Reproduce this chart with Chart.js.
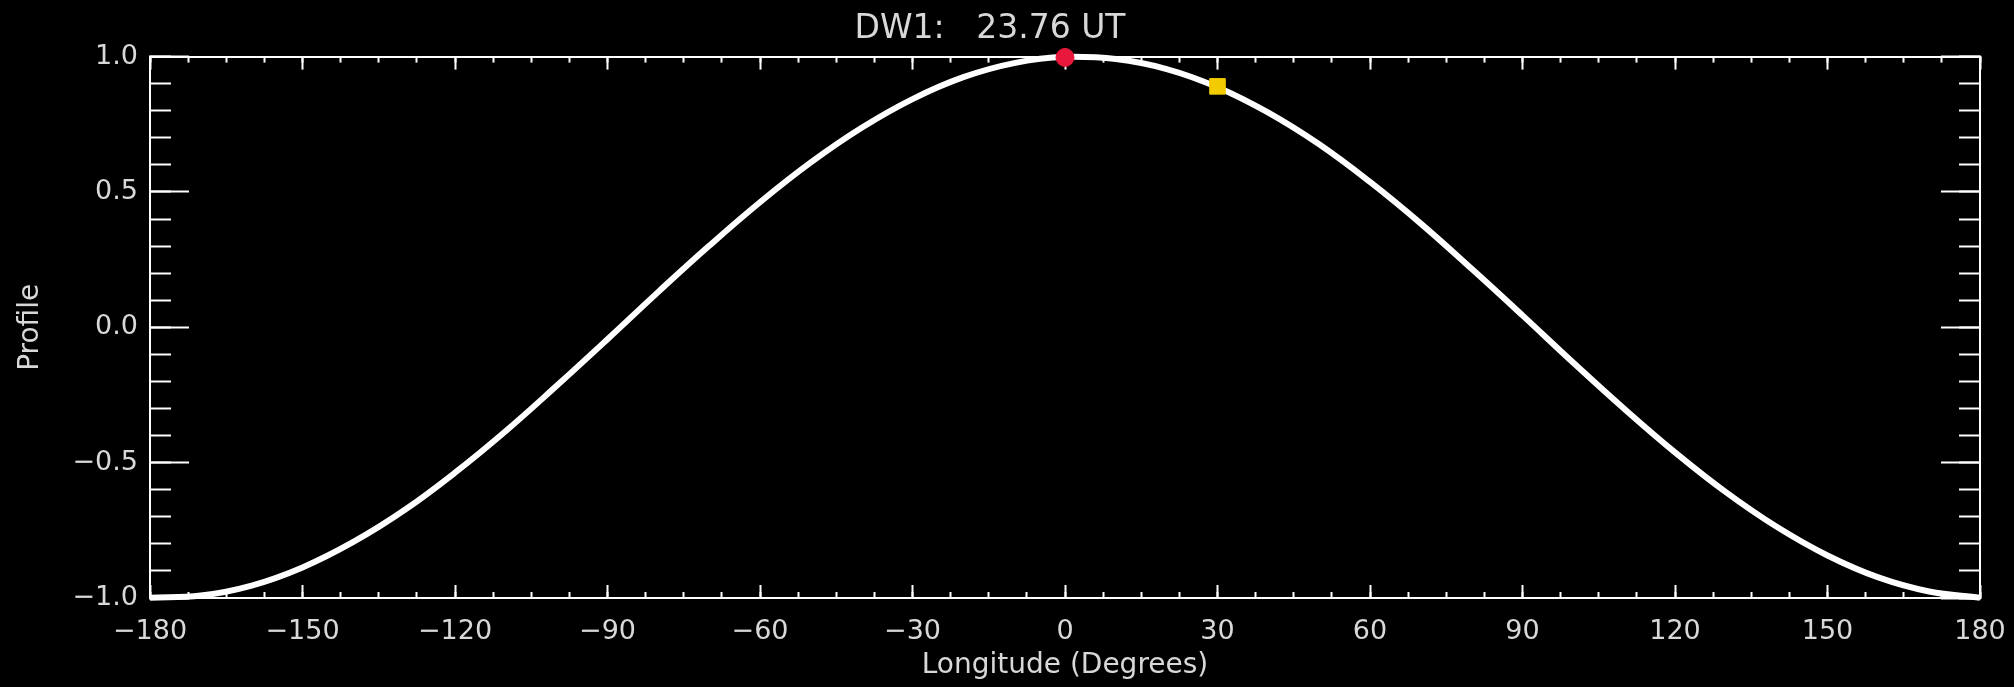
<!DOCTYPE html>
<html>
<head>
<meta charset="utf-8">
<script src="https://cdn.jsdelivr.net/npm/chart.js@4/dist/chart.umd.min.js"></script>
<style>
  html, body { margin: 0; padding: 0; background: #000; }
  #wrap { width: 2014px; height: 687px; position: relative; }
</style>
</head>
<body>
<div id="wrap"><canvas id="profileChart"></canvas></div>
<script>
/* ============ DATA ============ */
const longitude = [-180, -170, -160, -150, -140, -130, -120, -110, -100, -90,
  -80, -70, -60, -50, -40, -30, -20, -10, 0, 10, 20, 30, 40, 50, 60, 70, 80,
  90, 100, 110, 120, 130, 140, 150, 160, 170, 180];
const profile = [-0.999, -0.991, -0.954, -0.887, -0.793, -0.676, -0.537, -0.383,
  -0.216, -0.044, 0.131, 0.301, 0.462, 0.609, 0.737, 0.843, 0.924, 0.976, 0.999,
  0.991, 0.954, 0.887, 0.793, 0.676, 0.537, 0.383, 0.216, 0.044, -0.131, -0.301,
  -0.462, -0.609, -0.737, -0.843, -0.924, -0.976, -0.999];

const redMarker = { lon: 0, value: 0.997 };
const yellowMarker = { lon: 30, value: 0.89 };

const xRange = [-180, 180];
const yRange = [-1, 1];
const xMajorStep = 30, xMinorStep = 7.5;
const yMajorStep = 0.5, yMinorStep = 0.1;

const titleText = 'DW1:   23.76 UT';
const xTitle = 'Longitude (Degrees)';
const yTitle = 'Profile';

/* ============ STYLE ============ */
const FONT = "'DejaVu Sans', sans-serif";
const INK = '#d8d8d8';

// IDL-style inward ticks: one scale per tick length
function tickScale(axis, position, step, len, extra) {
  const isX = axis === 'x';
  return Object.assign({
    type: 'linear',
    position: position,
    axis: axis,
    min: isX ? xRange[0] : yRange[0],
    max: isX ? xRange[1] : yRange[1],
    weight: 0,
    border: { display: false },
    grid: { drawOnChartArea: false, drawTicks: true, tickLength: -len, tickColor: '#fff', tickWidth: 2 },
    ticks: { display: false, stepSize: step },
    afterFit: s => {
      if (isX) s.height = 0; else s.width = 0;
      s.paddingLeft = s.paddingRight = s.paddingTop = s.paddingBottom = 0;
    }
  }, extra || {});
}

const scales = {
  x: tickScale('x', 'bottom', xMajorStep, 13, {
    weight: 1,
    border: { display: true, color: '#fff', width: 2 },
    ticks: {
      display: true, stepSize: xMajorStep, padding: 31, color: INK,
      font: { family: FONT, size: 27 },
      callback: v => (v < 0 ? '\u2212' + Math.abs(v) : String(v))
    },
    title: { display: true, text: xTitle, color: INK, font: { family: FONT, size: 28 }, padding: { top: 0, bottom: 4 } },
    afterFit: s => { s.height = 89; s.paddingLeft = 0; s.paddingRight = 0; }
  }),
  xMinor: tickScale('x', 'bottom', xMinorStep, 6),
  xTop: tickScale('x', 'top', xMajorStep, 13, { border: { display: true, color: '#fff', width: 2 } }),
  xTopMinor: tickScale('x', 'top', xMinorStep, 6),
  y: tickScale('y', 'left', yMajorStep, 39, {
    weight: 1,
    border: { display: true, color: '#fff', width: 2 },
    ticks: {
      display: true, stepSize: yMajorStep, padding: 51, color: INK,
      font: { family: FONT, size: 27 },
      callback: v => (v < 0 ? '\u2212' : '') + Math.abs(v).toFixed(1)
    },
    title: { display: true, text: yTitle, color: INK, font: { family: FONT, size: 28 }, padding: { top: 14, bottom: 0 } },
    afterFit: s => { s.width = 150; s.paddingTop = 0; s.paddingBottom = 0; }
  }),
  yMinor: tickScale('y', 'left', yMinorStep, 21),
  yRight: tickScale('y', 'right', yMajorStep, 39, { border: { display: true, color: '#fff', width: 2 } }),
  yRightMinor: tickScale('y', 'right', yMinorStep, 21)
};

/* ============ CHART ============ */
new Chart(document.getElementById('profileChart'), {
  type: 'line',
  data: {
    datasets: [
      {
        data: [{ x: redMarker.lon, y: redMarker.value }],
        showLine: false,
        pointStyle: 'circle',
        pointRadius: 9,
        pointBackgroundColor: '#e8183c',
        pointBorderColor: '#e8183c',
        clip: false,
        order: 0
      },
      {
        data: [{ x: yellowMarker.lon, y: yellowMarker.value }],
        showLine: false,
        pointStyle: 'rect',
        pointRadius: 11,
        pointBackgroundColor: '#f2cc00',
        pointBorderColor: '#f2cc00',
        clip: false,
        order: 0
      },
      {
        data: longitude.map((lon, i) => ({ x: lon, y: profile[i] })),
        borderColor: '#ffffff',
        borderWidth: 6,
        tension: 0.4,
        pointRadius: 0,
        fill: false,
        clip: 4,
        order: 2
      }
    ]
  },
  options: {
    responsive: true, maintainAspectRatio: false,
    animation: false,
    layout: { padding: { left: 0, right: 34, top: 0, bottom: 0 } },
    plugins: {
      legend: { display: false },
      tooltip: { enabled: false },
      title: {
        display: true, text: titleText, color: INK,
        font: { family: FONT, size: 33, weight: 'normal' },
        padding: { top: 10, bottom: 7 }
      }
    },
    scales: scales
  }
});
</script>
</body>
</html>
